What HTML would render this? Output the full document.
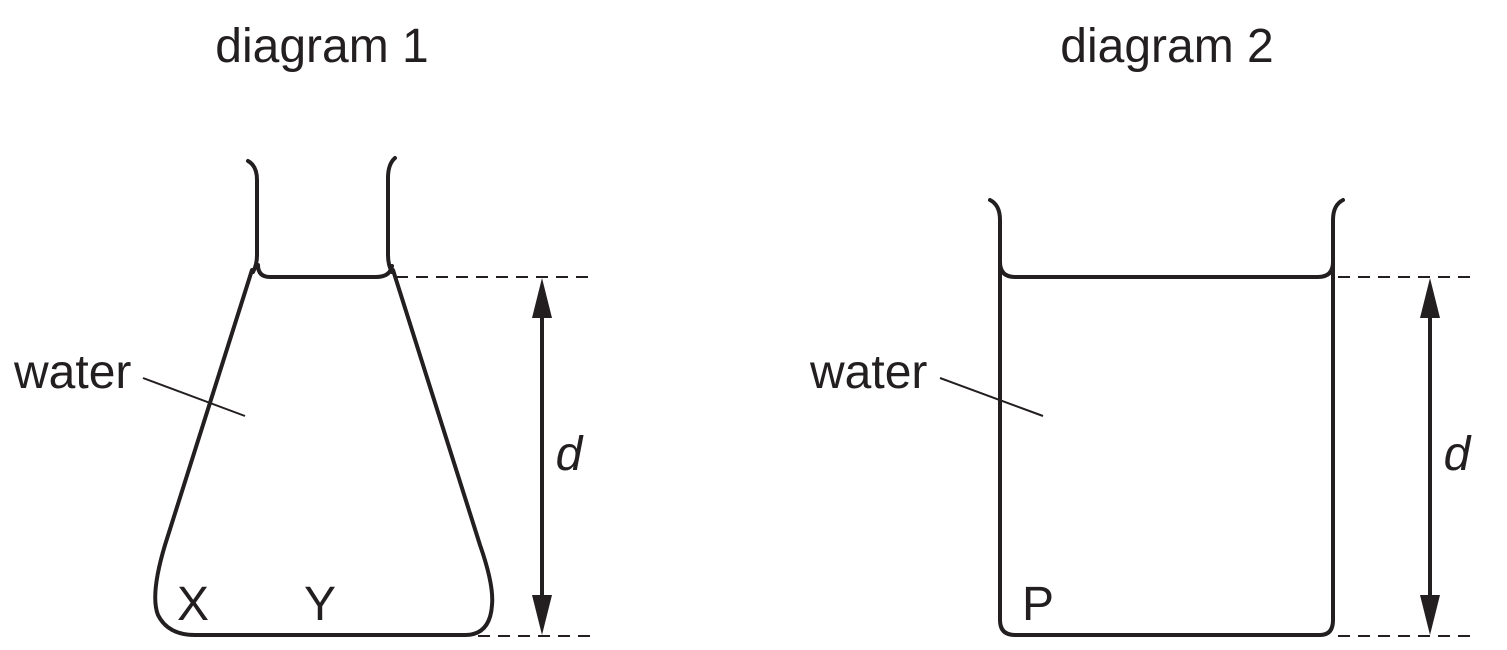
<!DOCTYPE html>
<html><head><style>
body{margin:0;background:#fff;}
svg{display:block;}
text{font-family:"Liberation Sans",Arial,sans-serif;fill:#231f20;}
</style></head><body>
<svg width="1507" height="650" viewBox="0 0 1507 650" xmlns="http://www.w3.org/2000/svg">
<g fill="none" stroke="#231f20" stroke-width="4" stroke-linecap="round" stroke-linejoin="round">
<path d="M248 161 Q257 166 257 180 L257 255 Q257 265 253 272"/>
<path d="M395 158 Q388 164 388 178 L388 255 Q388 265 392 272"/>
<path d="M258 265 Q258 277 270 277 L376 277 Q390 277 392 266"/>
<path d="M252 270 L165 545 Q150 595 158 615 Q168 635 195 635 L465 635 Q490 635 492 605 Q494 585 480 545 L393 270"/>
<path d="M990 200 Q1000 205 1000 220 L1000 620 Q1000 635 1015 635 L1320 635 Q1333 635 1333 620 L1333 220 Q1333 205 1343 200"/>
<path d="M1000 262 Q1000 277 1015 277 L1318 277 Q1333 277 1333 262"/>
</g>
<g stroke="#231f20" stroke-width="2" stroke-dasharray="12 8" fill="none">
<line x1="396" y1="277" x2="592" y2="277"/>
<line x1="478" y1="636" x2="592" y2="636"/>
<line x1="1338" y1="277" x2="1478" y2="277"/>
<line x1="1338" y1="636" x2="1478" y2="636"/>
</g>
<g stroke="#231f20" stroke-width="4">
<line x1="542" y1="300" x2="542" y2="612"/>
<line x1="1430" y1="300" x2="1430" y2="612"/>
</g>
<g fill="#231f20">
<path d="M542 278 L552 318 L532 318 Z"/>
<path d="M542 635 L552 595 L532 595 Z"/>
<path d="M1430 278 L1440 318 L1420 318 Z"/>
<path d="M1430 635 L1440 595 L1420 595 Z"/>
</g>
<g stroke="#231f20" stroke-width="2">
<line x1="143" y1="378" x2="245" y2="416"/>
<line x1="940" y1="378" x2="1043" y2="416"/>
</g>
<g font-size="48">
<text x="322" y="62" text-anchor="middle">diagram 1</text>
<text x="1167" y="62" text-anchor="middle">diagram 2</text>
<text x="14" y="388">water</text>
<text x="810" y="388">water</text>
<text x="569" y="470" text-anchor="middle" font-style="italic">d</text>
<text x="1457" y="470" text-anchor="middle" font-style="italic">d</text>
<text x="177" y="620">X</text>
<text x="304" y="620">Y</text>
<text x="1022" y="620">P</text>
</g>
</svg>
</body></html>
